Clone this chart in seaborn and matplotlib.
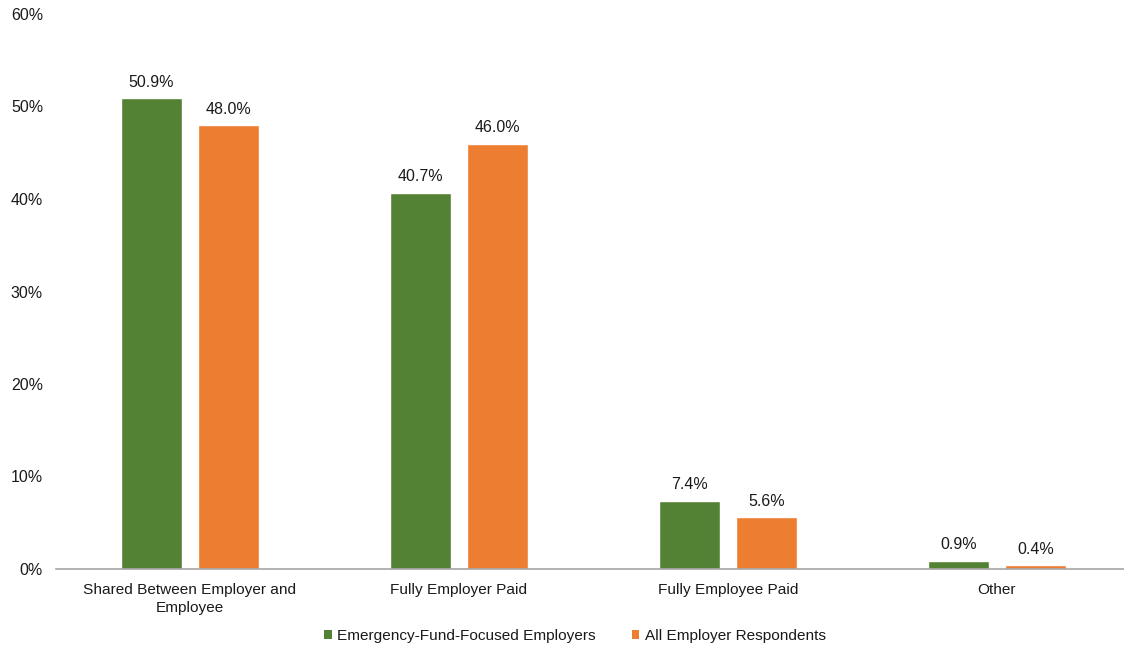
import matplotlib
matplotlib.use("Agg")
import matplotlib.pyplot as plt
import seaborn as sns
import pandas as pd
from matplotlib.patches import Patch

categories = ["Shared Between Employer and\nEmployee", "Fully Employer Paid",
              "Fully Employee Paid", "Other"]
series_names = ["Emergency-Fund-Focused Employers", "All Employer Respondents"]
emergency = [50.9, 40.7, 7.4, 0.9]
all_resp = [48.0, 46.0, 5.6, 0.4]
yticks = [0, 10, 20, 30, 40, 50, 60]
colors = ["#548235", "#ED7D31"]
txt = "#1a1a1a"

df = pd.DataFrame({
    "category": categories * 2,
    "series": [series_names[0]] * 4 + [series_names[1]] * 4,
    "value": emergency + all_resp,
})

sns.set_theme(style="white")
plt.rcParams["font.family"] = ["Liberation Sans", "DejaVu Sans"]

fig = plt.figure(figsize=(11.24, 6.48), dpi=100)
ax = fig.add_axes([55.5 / 1124, (648 - 569) / 648, 1 - 55.5 / 1124, (569 - 14) / 648])

sns.barplot(data=df, x="category", y="value", hue="series", order=categories,
            hue_order=series_names, palette=colors, width=0.573, gap=0.22,
            saturation=1, legend=False, ax=ax)

for cont in ax.containers:
    ax.bar_label(cont, labels=[f"{v:.1f}%" for v in cont.datavalues],
                 padding=6, fontsize=11.5, color=txt)

ax.set_xlim(-0.5, -0.5 + 1068.5 / 269)
ax.set_ylim(0, 60)
ax.set_yticks(yticks)
ax.set_yticklabels([f"{t}%" for t in yticks], fontsize=11.5, color=txt)
ax.tick_params(axis="y", length=0, pad=9)
ax.tick_params(axis="x", length=0, pad=10, labelsize=11.1, labelcolor=txt)
for lbl in ax.get_xticklabels():
    lbl.set_linespacing(1.35)
ax.set_xlabel("")
ax.set_ylabel("")
for s in ["top", "right", "left"]:
    ax.spines[s].set_visible(False)
ax.spines["bottom"].set_color("#A6A6A6")
ax.spines["bottom"].set_linewidth(1.2)

handles = [Patch(facecolor=c, edgecolor="none") for c in colors]
fig.legend(handles, series_names, loc="center", bbox_to_anchor=(575 / 1124, 1 - 636 / 648),
           ncol=2, frameon=False, fontsize=11.1, handlelength=0.5, handleheight=0.5,
           handletextpad=0.35, columnspacing=2.3, labelcolor=txt)

fig.savefig("out.png", dpi=100)
